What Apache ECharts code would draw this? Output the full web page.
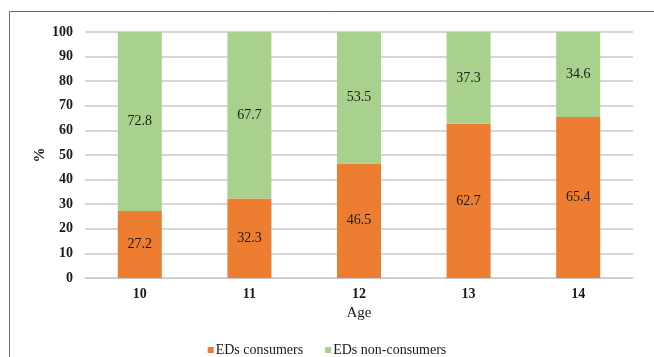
<!DOCTYPE html>
<html><head><meta charset="utf-8">
<script src="https://cdn.jsdelivr.net/npm/echarts@6/dist/echarts.min.js"></script>
<style>html,body{margin:0;padding:0;background:#fff}#c{width:654px;height:357px}</style>
</head><body><div id="c"></div>
<script>
const categories = ['10', '11', '12', '13', '14'];
const consumers = [27.2, 32.3, 46.5, 62.7, 65.4];
const nonConsumers = [72.8, 67.7, 53.5, 37.3, 34.6];
const seriesNames = ['EDs consumers', 'EDs non-consumers'];
const yAxisTitle = '%';
const serif = '"Liberation Serif", "Times New Roman", serif';
const chart = echarts.init(document.getElementById('c'));
const lbl = {show: true, position: 'inside', color: '#1a1a1a', fontFamily: serif, fontSize: 14,
  formatter: p => p.value.toFixed(1)};
chart.setOption({
  animation: false,
  graphic: [
    {type: 'rect', shape: {x: 9.5, y: 11.5, width: 700, height: 400},
      style: {fill: 'none', stroke: '#6b6b6b', lineWidth: 1}, silent: true},
    {type: 'text', x: 40, y: 155, rotation: Math.PI / 2,
      style: {text: yAxisTitle, fontFamily: serif, fontSize: 15, fontWeight: 'bold', fill: '#1a1a1a',
        align: 'center', verticalAlign: 'middle'}}
  ],
  grid: {left: 85, right: 21, top: 32, bottom: 79, containLabel: false},
  legend: {bottom: -5, left: 'center', itemWidth: 6, itemHeight: 6, itemGap: 22, icon: 'rect',
    textStyle: {fontFamily: serif, fontSize: 14, color: '#1a1a1a', padding: [0, 0, 0, -3]},
    data: seriesNames},
  xAxis: {type: 'category', data: categories, name: 'Age', nameLocation: 'middle', nameGap: 28,
    nameTextStyle: {fontFamily: serif, fontSize: 15, color: '#1a1a1a'},
    axisLine: {show: true, lineStyle: {color: '#c8c8c8'}}, axisTick: {show: false},
    axisLabel: {fontFamily: serif, fontSize: 14, fontWeight: 'bold', color: '#1a1a1a', margin: 9}},
  yAxis: {type: 'value', min: 0, max: 100, interval: 10,
    axisLine: {show: false}, axisTick: {show: false},
    splitLine: {lineStyle: {color: '#c8c8c8', width: 1.5}},
    axisLabel: {fontFamily: serif, fontSize: 14, fontWeight: 'bold', color: '#1a1a1a', margin: 12}},
  series: [
    {name: seriesNames[0], type: 'bar', stack: 'a', data: consumers, barWidth: 44,
      itemStyle: {color: '#ED7D31'}, label: lbl},
    {name: seriesNames[1], type: 'bar', stack: 'a', data: nonConsumers, barWidth: 44,
      itemStyle: {color: '#A9D18E'}, label: lbl}
  ]
});
</script></body></html>
